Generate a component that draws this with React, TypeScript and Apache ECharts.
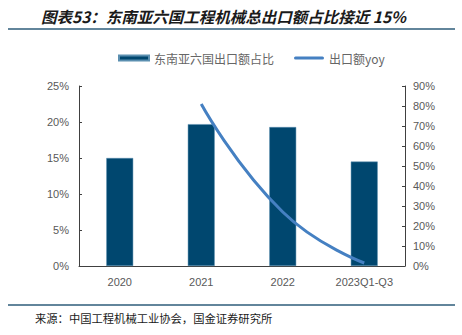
import React, { useEffect, useRef } from "react";
import * as echarts from "echarts";

const categories = ["2020", "2021", "2022", "2023Q1-Q3"];
const shareValues = [15.0, 19.7, 19.3, 14.5];
const yoyValues: (number | null)[] = [null, 81, 27, 1.5];
const titleText = "图表53：东南亚六国工程机械总出口额占比接近 15%";
const sourceText = "来源：中国工程机械工业协会，国金证券研究所";
const barName = "东南亚六国出口额占比";
const lineName = "出口额yoy";

export default function App() {
  const ref = useRef<HTMLDivElement>(null);
  useEffect(() => {
    if (!ref.current) return;
    const chart = echarts.init(ref.current, null, { renderer: "svg" });
    const labelColor = "#595959";
    const axisColor = "#404040";
    chart.setOption({
      animation: false,
      backgroundColor: "#ffffff",
      title: {
        text: titleText,
        left: 36,
        top: 3,
        textStyle: {
          fontFamily: "Noto Sans CJK SC",
          fontStyle: "italic",
          fontWeight: "bold",
          fontSize: 15.5,
          color: "#1a1a1a",
        },
      },
      legend: {
        top: 47,
        left: 113,
        itemGap: 20,
        itemWidth: 30,
        itemHeight: 5,
        textStyle: { color: "#666666", fontSize: 12, fontFamily: "Noto Sans CJK SC" },
        data: [
          { name: barName, icon: "rect" },
          { name: lineName, icon: "path://M1.5,0 H28.5 A1.5,1.5 0 0 1 28.5,3 H1.5 A1.5,1.5 0 0 1 1.5,0 Z", itemStyle: { color: "#4580C2" } },
        ],
      },
      grid: { left: 79, right: 57, top: 86, bottom: 69 },
      xAxis: {
        type: "category",
        data: categories,
        axisLine: { lineStyle: { color: axisColor, width: 1 } },
        axisTick: { inside: true, length: 4, lineStyle: { color: axisColor } },
        axisLabel: { color: labelColor, fontSize: 11, margin: 10, fontFamily: "Liberation Sans" },
      },
      yAxis: [
        {
          type: "value",
          min: 0,
          max: 25,
          interval: 5,
          splitLine: { show: false },
          axisLine: { show: true, lineStyle: { color: axisColor } },
          axisTick: { show: true, inside: true, length: 3, lineStyle: { color: axisColor } },
          axisLabel: { color: labelColor, fontSize: 11, margin: 10, formatter: "{value}%", fontFamily: "Liberation Sans" },
        },
        {
          type: "value",
          min: 0,
          max: 90,
          interval: 10,
          splitLine: { show: false },
          axisLine: { show: true, lineStyle: { color: axisColor } },
          axisTick: { show: true, inside: true, length: 3, lineStyle: { color: axisColor } },
          axisLabel: { color: labelColor, fontSize: 11, margin: 8, formatter: "{value}%", fontFamily: "Liberation Sans" },
        },
      ],
      series: [
        {
          name: barName,
          type: "bar",
          data: shareValues,
          barWidth: "33%",
          itemStyle: { color: "#00476F", borderColor: "#5b8fb0", borderWidth: 0.5 },
        },
        {
          name: lineName,
          type: "line",
          yAxisIndex: 1,
          data: yoyValues,
          smooth: 0.5,
          showSymbol: false,
          symbol: "none",
          connectNulls: false,
          lineStyle: { color: "#4580C2", width: 3 },
          itemStyle: { color: "#4580C2" },
        },
      ],
      graphic: [
        {
          type: "line",
          shape: { x1: 8, y1: 29, x2: 455, y2: 29 },
          style: { stroke: "#2E5C7A", lineWidth: 1.5 },
        },
        {
          type: "line",
          shape: { x1: 8, y1: 305, x2: 455, y2: 305 },
          style: { stroke: "#2E5C7A", lineWidth: 1.5 },
        },
        {
          type: "text",
          left: 35,
          top: 312,
          style: {
            text: sourceText,
            fontSize: 11.3,
            fontFamily: "Noto Sans CJK SC",
            fill: "#1a1a1a",
          },
        },
      ],
    });
    return () => chart.dispose();
  }, []);
  return <div ref={ref} style={{ width: 462, height: 335, position: "absolute", left: 0, top: 0 }} />;
}
